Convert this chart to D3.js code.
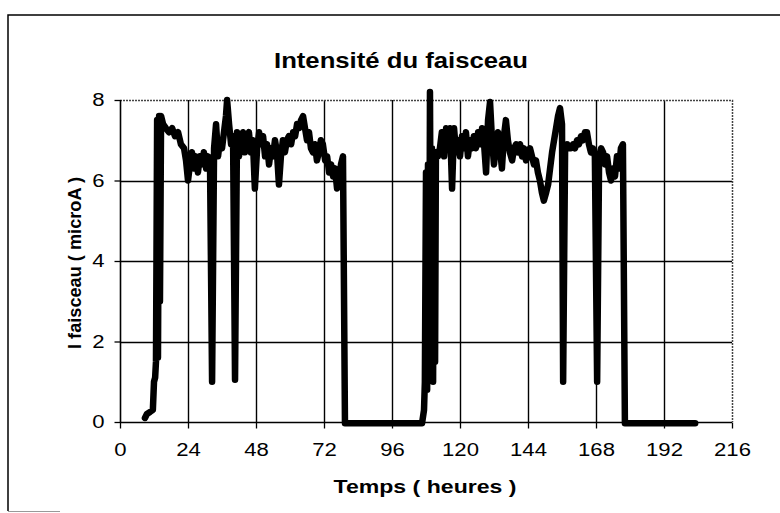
<!DOCTYPE html>
<html><head><meta charset="utf-8">
<script src="https://cdn.jsdelivr.net/npm/d3@7"></script>
<style>body{margin:0;background:#fff}svg{display:block}</style>
</head><body>
<svg id="c" width="780" height="513"></svg>
<script>
const chartTitle = "Intensité du faisceau";
const xTitle = "Temps ( heures )";
const yTitle = "I faisceau ( microA )";
const xTicks = [0,24,48,72,96,120,144,168,192,216];
const yTicks = [0,2,4,6,8];
// time in hours
const hours = [8.8,9.5,10.6,11.6,12.0,12.4,12.7,13.1,13.4,13.8,14.1,14.5,15.2,16.2,17.3,18.4,19.4,20.5,21.5,22.6,23.3,24.0,24.7,25.4,26.1,26.8,27.5,28.2,28.9,29.6,30.4,31.1,31.8,32.5,33.2,33.9,34.6,35.3,36.0,36.7,37.4,37.8,38.5,39.2,39.9,40.6,41.3,42.0,42.7,43.4,44.1,44.8,45.5,46.2,46.9,47.6,48.4,49.1,49.8,50.5,51.2,51.9,52.6,53.3,54.0,54.7,55.4,56.1,56.8,57.5,58.2,58.9,59.6,60.4,61.1,61.8,62.5,63.2,63.9,64.6,65.3,66.0,66.7,67.4,68.1,68.8,69.5,70.2,70.9,71.6,72.4,73.1,73.8,74.5,75.2,75.9,76.6,77.3,78.0,78.7,79.4,90.0,106.6,
107.3,107.6,108.0,108.4,108.7,109.1,109.4,109.8,110.1,110.5,110.8,111.2,111.5,112.2,112.9,113.6,114.4,115.1,115.8,116.5,117.2,117.9,118.6,119.3,120.0,120.7,121.4,122.1,122.8,123.5,124.2,124.9,125.6,126.4,127.1,127.8,128.5,129.2,129.9,130.6,131.3,132.0,132.7,133.4,134.1,134.8,135.5,136.2,136.9,137.6,138.4,139.1,139.8,140.5,141.2,141.9,142.6,143.3,144.0,144.7,145.4,146.1,146.8,147.5,148.2,148.9,149.6,150.4,151.1,151.8,152.5,153.2,153.9,154.6,155.3,156.0,156.4,157.1,157.8,158.5,159.2,159.9,160.6,161.3,162.0,162.7,163.4,164.1,164.8,165.5,166.2,166.9,167.6,168.4,169.1,169.8,170.5,171.2,171.9,172.6,173.3,174.0,174.7,175.4,176.1,176.8,177.5,178.2,190.0,203.0];
// beam intensity in microA
const intensity = [0.1,0.2,0.25,0.3,1.0,1.1,1.5,7.5,1.6,7.6,3.0,7.6,7.4,7.3,7.2,7.3,7.1,7.2,6.9,6.8,6.5,6.0,6.4,6.7,6.3,6.6,6.2,6.6,6.4,6.7,6.3,6.6,6.2,1.0,6.8,7.4,6.6,7.0,6.8,7.2,7.6,8.0,7.4,6.9,7.1,1.05,7.2,6.6,7.0,7.2,6.7,7.1,7.2,6.7,7.0,5.8,6.8,7.2,6.9,7.1,6.6,6.9,6.4,6.8,6.6,7.0,6.7,5.9,6.6,7.0,6.7,7.0,7.1,6.9,7.2,7.1,7.4,7.3,7.5,7.6,7.3,7.0,7.2,6.8,6.7,6.9,6.5,6.7,7.0,6.9,6.5,6.6,6.2,6.4,6.1,6.3,5.8,6.0,6.4,6.6,-0.03,-0.03,-0.03,
0.3,1.0,6.2,0.8,6.4,1.2,8.2,2.0,6.8,1.0,6.6,1.5,6.7,6.6,6.8,7.2,6.6,7.3,7.0,7.3,5.8,7.3,6.7,7.0,6.6,7.1,6.8,7.2,6.6,7.0,6.8,7.1,6.8,7.2,6.9,7.3,6.9,6.2,7.5,7.95,7.0,6.4,6.9,7.2,6.8,6.3,7.1,7.5,7.0,6.7,6.5,6.8,6.9,6.7,6.9,6.6,6.8,6.5,6.7,6.8,6.6,6.4,6.5,6.2,6.0,5.7,5.5,5.7,5.9,6.3,6.7,7.0,7.3,7.6,7.8,7.4,1.0,6.8,6.9,6.8,6.8,6.9,6.8,7.0,6.9,7.1,7.0,7.2,7.2,6.9,6.7,6.8,6.6,1.0,6.6,6.8,6.7,6.4,6.6,6.2,6.0,6.3,6.1,6.6,6.3,6.8,6.9,-0.03,-0.03,-0.03];

const svg = d3.select("#c");
const m = {left:120, right:732, top:100, bottom:422};
const x = d3.scaleLinear().domain([0,216]).range([m.left, m.right]);
const y = d3.scaleLinear().domain([0,8]).range([m.bottom, m.top]);
const font = "'Liberation Sans', Arial, sans-serif";

// outer frame
svg.append("path").attr("d","M8,511 L8,15 L780,15").attr("fill","none").attr("stroke","#000").attr("stroke-width",1.5);
svg.append("line").attr("x1",8).attr("x2",60).attr("y1",511.5).attr("y2",511.5).attr("stroke","#999").attr("stroke-width",1);

// grid
const g = svg.append("g");
g.selectAll(".hg").data(yTicks.filter(d=>d>0 && d<8)).join("line")
  .attr("x1",m.left).attr("x2",m.right).attr("y1",d=>Math.round(y(d))+0.5).attr("y2",d=>Math.round(y(d))+0.5)
  .attr("stroke","#000").attr("stroke-width",1.4);
g.selectAll(".vg").data(xTicks.filter(d=>d>0 && d<216)).join("line")
  .attr("y1",m.top).attr("y2",m.bottom).attr("x1",d=>Math.round(x(d))+0.5).attr("x2",d=>Math.round(x(d))+0.5)
  .attr("stroke","#000").attr("stroke-width",1.4);
// plot border top/right dotted grey
svg.append("path").attr("d",`M${m.left},${m.top+0.5} L${m.right+0.5},${m.top+0.5} L${m.right+0.5},${m.bottom}`)
  .attr("fill","none").attr("stroke","#444").attr("stroke-width",1.5).attr("stroke-dasharray","2,1");

// axes
const xAxis = d3.axisBottom(x).tickValues(xTicks).tickSize(6).tickPadding(15);
const yAxis = d3.axisLeft(y).tickValues(yTicks).tickSize(6).tickPadding(10);
const gx = svg.append("g").attr("transform",`translate(0,${m.bottom+0.5})`).call(xAxis);
const gy = svg.append("g").attr("transform",`translate(${m.left+0.5},0)`).call(yAxis);
[gx,gy].forEach(a=>{
  a.select(".domain").attr("stroke","#000").attr("stroke-width",1.6);
  a.selectAll(".tick line").attr("stroke","#000").attr("stroke-width",1.3);
  a.selectAll("text").attr("font-family",font).attr("font-size",18).attr("fill","#000")
    .attr("textLength",d=>String(d).length*12.3).attr("lengthAdjust","spacingAndGlyphs");
});
gx.select(".domain").attr("d",`M${m.left},0H${m.right}`);
gy.select(".domain").attr("d",`M0,${m.top}V${m.bottom}`);

// line
const line = d3.line().x((d,i)=>x(hours[i])).y(d=>y(d));
svg.append("path").datum(intensity).attr("d",line).attr("fill","none")
  .attr("stroke","#000").attr("stroke-width",6.5).attr("stroke-linejoin","round").attr("stroke-linecap","round");

// titles
svg.append("text").attr("x",401).attr("y",68).attr("text-anchor","middle")
  .attr("font-family",font).attr("font-weight","bold").attr("font-size",22)
  .attr("textLength",254).attr("lengthAdjust","spacingAndGlyphs").text(chartTitle);
svg.append("text").attr("x",425).attr("y",493).attr("text-anchor","middle")
  .attr("font-family",font).attr("font-weight","bold").attr("font-size",18)
  .attr("textLength",183).attr("lengthAdjust","spacingAndGlyphs").text(xTitle);
svg.append("text").attr("transform","translate(81,263) rotate(-90)").attr("text-anchor","middle")
  .attr("font-family",font).attr("font-weight","bold").attr("font-size",17.5)
  .attr("textLength",172).attr("lengthAdjust","spacingAndGlyphs").text(yTitle);
</script>
</body></html>
